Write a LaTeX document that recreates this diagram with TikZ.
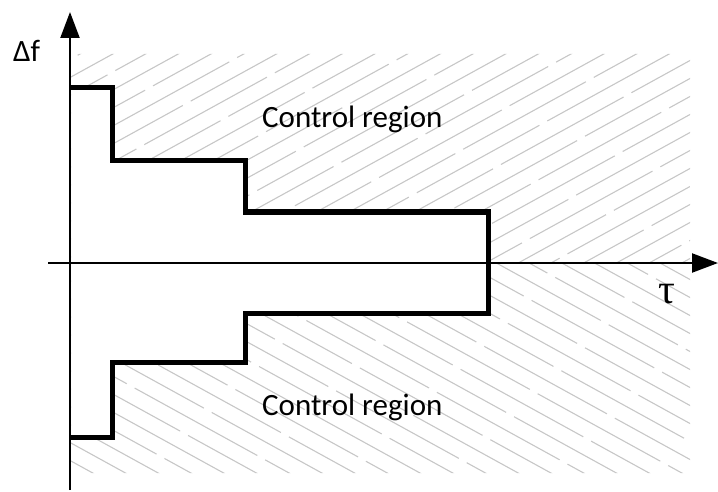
\documentclass[tikz,border=0pt]{standalone}
\usepackage{fontspec}
\setmainfont{Carlito}
\newfontfamily\taufont{Liberation Serif}
\usetikzlibrary{arrows.meta}
\tikzset{
  axisline/.style={line width=2.2pt, -{Triangle[length=26pt,width=19pt]}},
  stepline/.style={line width=5pt, line join=miter},
  hatchline/.style={line width=1.1pt, black!22, dash pattern=on 140pt off 9pt},
  lbl/.style={font=\fontsize{31}{36}\selectfont, inner sep=0pt, anchor=base west},
}
\begin{document}
\begin{tikzpicture}[x=1pt,y=-1pt]
\useasboundingbox (0,0) rectangle (718,492);
% upper hatch
\begin{scope}[even odd rule]
  \clip (71,54) rectangle (690,263)
    (70,88) -- (112,88) -- (112,161) -- (245,161) -- (245,212) -- (488,212) -- (488,263) -- (70,263) -- cycle;
  \foreach \k in {0,...,60} {
    \pgfmathsetmacro{\ph}{mod(\k*53,149)}
    \draw[hatchline, dash phase=\ph pt] (40,{40+18*\k}) -- ++(700,-385);
  }
\end{scope}
% lower hatch
\begin{scope}[even odd rule]
  \clip (71,263) rectangle (690,473)
    (70,263) -- (488,263) -- (488,313) -- (245,313) -- (245,362) -- (112,362) -- (112,437) -- (70,437) -- cycle;
  \foreach \k in {0,...,60} {
    \pgfmathsetmacro{\ph}{mod(\k*61,149)}
    \draw[hatchline, dash phase=\ph pt] (40,{480-18*\k}) -- ++(700,385);
  }
\end{scope}
% axes
\coordinate (ybot) at (70,490);
\coordinate (ytop) at (70,12);
\coordinate (xleft) at (48,263);
\coordinate (xright) at (718,263);
\draw[axisline] (ybot) -- (ytop);
\draw[axisline] (xleft) -- (xright);
% step boundary
\draw[stepline] (70,88) -- (112,88) -- (112,161) -- (245,161) -- (245,212) -- (488,212)
  -- (488,313) -- (245,313) -- (245,362) -- (112,362) -- (112,437) -- (70,437);
% labels
\node[lbl] (df) at (13,62) {Δf};
\node[inner sep=0pt, anchor=base, font=\taufont\fontsize{42}{46}\selectfont] (tau) at (667,303) {τ};
\node[lbl] (cu) at (262,128) {Control region};
\node[lbl] (cl) at (262,415) {Control region};
\end{tikzpicture}
\end{document}
